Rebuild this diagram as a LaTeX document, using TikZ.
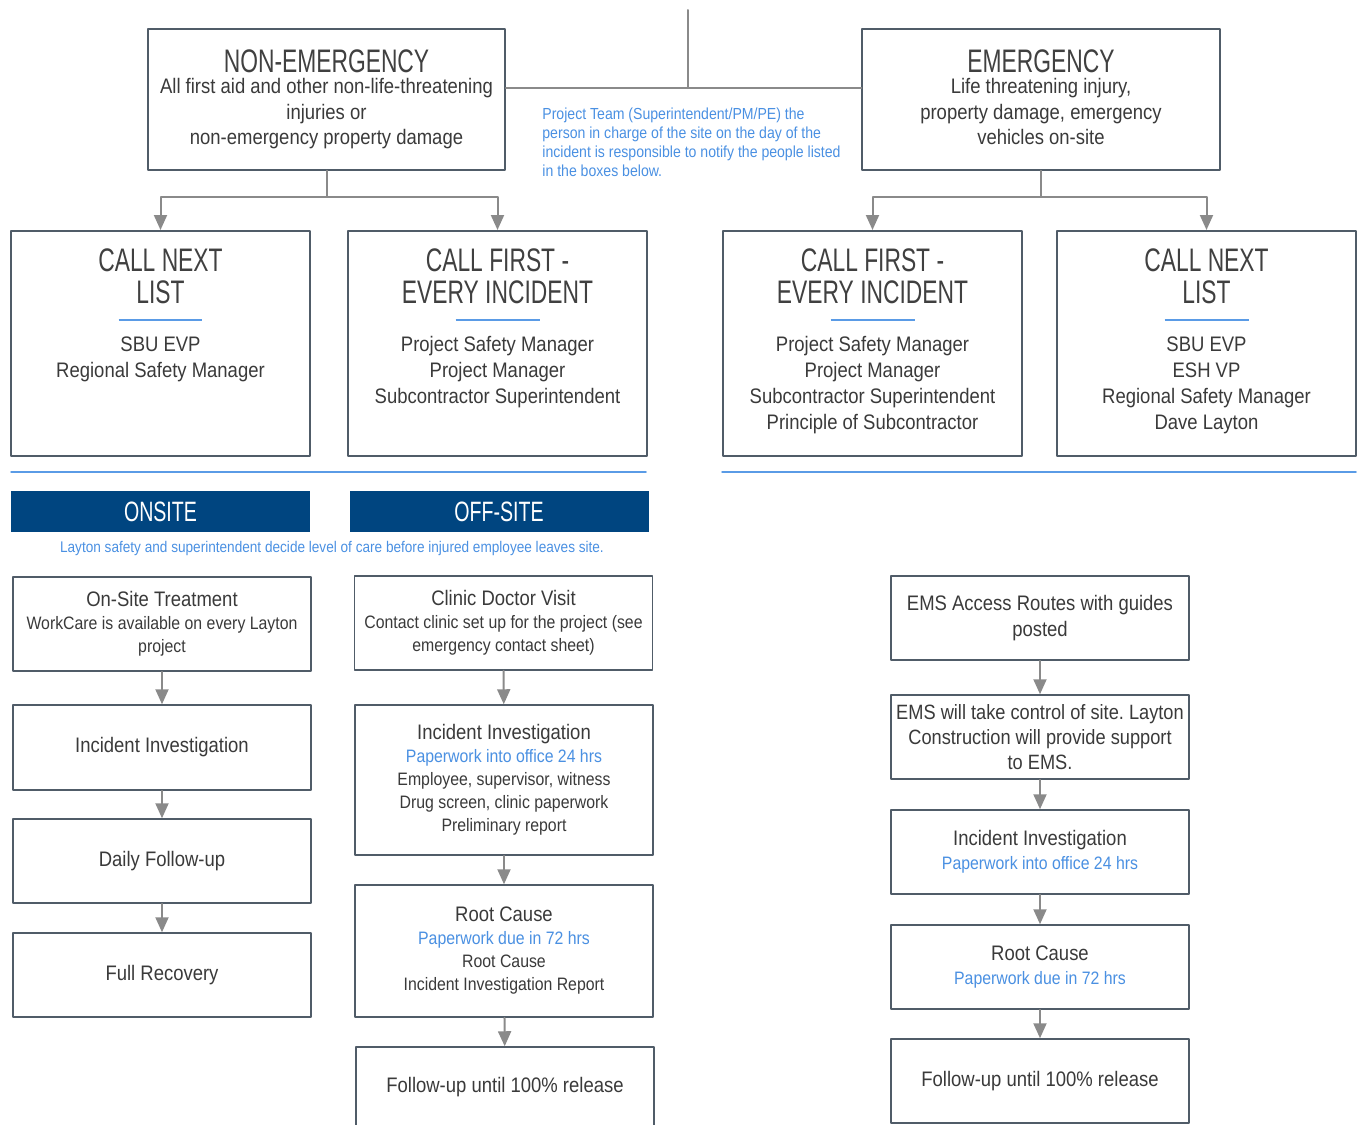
\documentclass[tikz,border=0pt]{standalone}
\usepackage{fontspec}
\setmainfont{Liberation Sans}[FakeStretch=0.88]
\newfontfamily\headfont{Liberation Sans}[FakeStretch=0.7]
\usetikzlibrary{arrows.meta, calc, positioning}
\definecolor{textgray}{RGB}{58, 58, 58}
\definecolor{headgray}{RGB}{64, 64, 64}
\definecolor{boxslate}{RGB}{80, 92, 104}
\definecolor{linkgray}{RGB}{138, 138, 138}
\definecolor{noteblue}{RGB}{74, 144, 226}
\definecolor{bandblue}{RGB}{0, 69, 128}
\definecolor{ruleblue}{RGB}{90, 155, 230}
\frenchspacing
\newcommand{\subtxt}{\fontsize{9}{11}\selectfont}
\newcommand{\headtxt}{\headfont\fontsize{16.3}{16}\selectfont\color{headgray}}
\newcommand{\calllist}[2]{\parbox[t][112.5pt][t]{149.5pt}{\centering\vspace*{9.15pt}%
	{\headtxt #1\par}\vspace{-4pt}%
	{\leavevmode\color{ruleblue}\rule{42pt}{0.75pt}\par}\vspace{2.15pt}%
	\fontsize{10.5}{13}\selectfont #2}}

\begin{document}
\begin{tikzpicture}[x=0.5pt, y=-0.5pt, line cap=round, line join=round, >={Triangle[length=7.5pt,width=6.5pt]},
	frame/.style={draw=boxslate, line width=0.75pt, fill=white, text=textgray, inner sep=0pt},
	box/.style={frame, align=center, font=\fontsize{10.5}{12.5}\selectfont},
	col/.style={box, minimum width=149pt},
	tight/.style={font=\fontsize{10.5}{11.5}\selectfont},
	callbox/.style={frame, anchor=north, font=\fontsize{10.5}{12.5}\selectfont},
	band/.style={fill=bandblue, text=white, minimum width=149.5pt, minimum height=20.5pt, inner sep=0pt, font=\headfont\fontsize{14}{16}\selectfont},
	note/.style={text=noteblue, inner sep=0pt, font=\fontsize{8}{9.5}\selectfont},
	link/.style={draw=linkgray, line width=1pt},
	arrow/.style={link, ->}]
		\useasboundingbox (0,0) rectangle (1361,1125);

		% top level
		\coordinate (top) at (688,10);
		\coordinate (hub) at (688,88);
		\node[box, minimum width=178.5pt, minimum height=70.5pt, font=\fontsize{10.5}{12.75}\selectfont] (nonem) at (326.5,99.5) {{\headtxt NON-EMERGENCY}\\[-2pt]All first aid and other non-life-threatening\\injuries or\\non-emergency property damage};
		\node[box, minimum width=179pt, minimum height=70.5pt, font=\fontsize{10.5}{12.75}\selectfont] (emerg) at (1041,99.5) {{\headtxt EMERGENCY}\\[-2pt]Life threatening injury,\\property damage, emergency\\vehicles on-site\vphantom{p}};
		\draw[link] (top) -- (hub);
		\draw[link] (nonem.east |- hub) -- (emerg.west |- hub);
		\node[note, anchor=north west, align=left] (teamnote) at (542,108) {Project Team (Superintendent/PM/PE) the\\person in charge of the site on the day of the\\incident is responsible to notify the people listed\\in the boxes below.};

		% who to call
		\node[callbox] (nextne) at (160.5,230) {\calllist{CALL NEXT\\LIST}{SBU EVP\\Regional Safety Manager}};
		\node[callbox] (firstne) at (497.5,230) {\calllist{CALL FIRST -\\EVERY INCIDENT}{Project Safety Manager\\Project Manager\\Subcontractor Superintendent}};
		\node[callbox] (firstem) at (872.5,230) {\calllist{CALL FIRST -\\EVERY INCIDENT}{Project Safety Manager\\Project Manager\\Subcontractor Superintendent\\Principle of Subcontractor}};
		\node[callbox] (nextem) at (1206.5,230) {\calllist{CALL NEXT\\LIST}{SBU EVP\\ESH VP\\Regional Safety Manager\\Dave Layton}};
		\draw[arrow] (nonem.south) -- ++(0,26) -| (nextne.north);
		\draw[arrow] (nonem.south) -- ++(0,26) -| (firstne.north);
		\draw[arrow] (emerg.south) -- ++(0,26) -| (firstem.north);
		\draw[arrow] (emerg.south) -- ++(0,26) -| (nextem.north);

		\draw[ruleblue, line width=0.75pt] (11,472) -- (646,472);
		\draw[ruleblue, line width=0.75pt] (722,472) -- (1356,472);

		% level of care
		\node[band] (onsite) at (160.5,511.5) {ONSITE};
		\node[band] (offsite) at (499,511.5) {OFF-SITE};
		\node[note, font=\fontsize{7.73}{9.5}\selectfont] (carenote) at (332,548) {Layton safety and superintendent decide level of care before injured employee leaves site.};

		% onsite column
		\node[col, tight, minimum height=47pt] (treat) at (162,624) {On-Site Treatment\\\subtxt WorkCare is available on every Layton\\\subtxt project};
		\node[col, minimum height=42.5pt] (invon) at (162,747.5) {Incident Investigation};
		\node[col, minimum height=42pt] (daily) at (162,861) {Daily Follow-up};
		\node[col, minimum height=42pt] (recovery) at (162,975) {Full Recovery};
		\draw[arrow] (treat) -- (invon);
		\draw[arrow] (invon) -- (daily);
		\draw[arrow] (daily) -- (recovery);

		% off-site column
		\node[col, tight, minimum height=47pt] (clinic) at (503.5,623) {Clinic Doctor Visit\\\subtxt Contact clinic set up for the project (see\\\subtxt emergency contact sheet)};
		\node[col, tight, minimum height=75pt] (invoff) at (504,780) {Incident Investigation\\\subtxt\color{noteblue}Paperwork into office 24 hrs\\\subtxt Employee, supervisor, witness\\\subtxt Drug screen, clinic paperwork\\\subtxt Preliminary report};
		\node[col, tight, minimum height=66pt] (rootoff) at (504,951) {Root Cause\\\subtxt\color{noteblue}Paperwork due in 72 hrs\\\subtxt Root Cause\\\subtxt Incident Investigation Report};
		\node[col, minimum height=40pt] (followoff) at (505,1087) {Follow-up until 100\% release};
		\draw[arrow] (clinic) -- (invoff);
		\draw[arrow] (invoff) -- (rootoff);
		\draw[arrow] (rootoff) -- (followoff);

		% emergency column
		\node[col, font=\fontsize{10.5}{13}\selectfont, minimum height=42pt] (routes) at (1040,618) {EMS Access Routes with guides\\posted};
		\node[col, font=\fontsize{10.35}{12.5}\selectfont, minimum height=42pt] (ems) at (1040,737) {EMS will take control of site. Layton\\Construction will provide support\\to EMS.};
		\node[col, font=\fontsize{10.5}{12}\selectfont, minimum height=42pt] (invem) at (1040,852) {Incident Investigation\\\subtxt\color{noteblue}Paperwork into office 24 hrs};
		\node[col, font=\fontsize{10.5}{12}\selectfont, minimum height=42pt] (rootem) at (1040,967) {Root Cause\\\subtxt\color{noteblue}Paperwork due in 72 hrs};
		\node[col, minimum height=42pt] (followem) at (1040,1081) {Follow-up until 100\% release};
		\draw[arrow] (routes) -- (ems);
		\draw[arrow] (ems) -- (invem);
		\draw[arrow] (invem) -- (rootem);
		\draw[arrow] (rootem) -- (followem);
\end{tikzpicture}
\end{document}
